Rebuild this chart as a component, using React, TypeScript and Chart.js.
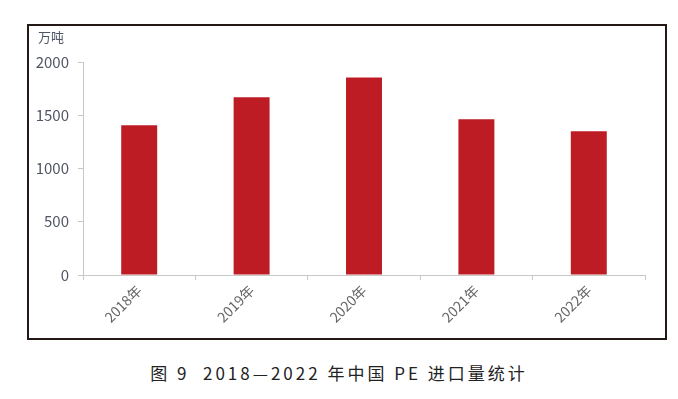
import React, { useEffect, useRef } from "react";
import { Chart, registerables } from "chart.js";

Chart.register(...registerables);

const categories = ["2018年", "2019年", "2020年", "2021年", "2022年"];
const importVolume = [1406, 1670, 1855, 1462, 1349];
const yTicks = [0, 500, 1000, 1500, 2000];
const unitLabel = "万吨";
const caption = "图 9  2018—2022 年中国 PE 进口量统计";

const FONT = "'Noto Sans CJK SC', 'Noto Sans', sans-serif";

export default function App() {
  const ref = useRef<HTMLCanvasElement | null>(null);

  useEffect(() => {
    if (!ref.current) return;
    const chart = new Chart(ref.current, {
      type: "bar",
      data: {
        labels: categories,
        datasets: [
          {
            data: importVolume,
            backgroundColor: "#be1c24",
            borderWidth: 0,
            barPercentage: 0.64,
            categoryPercentage: 0.5,
          },
        ],
      },
      options: {
        responsive: false,
        animation: false,
        layout: { padding: { top: 38, right: 22, left: 0, bottom: 0 } },
        plugins: {
          legend: { display: false },
          tooltip: { enabled: false },
        },
        scales: {
          x: {
            grid: {
              display: true,
              drawOnChartArea: false,
              tickLength: 5,
              color: "#c8c8c8",
            },
            border: { display: true, color: "#c8c8c8", width: 1 },
            ticks: {
              maxRotation: 45,
              minRotation: 45,
              color: "#666666",
              font: { family: FONT, size: 14 },
              padding: 2,
            },
            afterFit: (s: any) => {
              s.height = 65;
            },
          },
          y: {
            min: 0,
            max: 2000,
            afterBuildTicks: (s: any) => {
              s.ticks = yTicks.map((v) => ({ value: v }));
            },
            grid: {
              display: true,
              drawOnChartArea: false,
              tickLength: 5,
              color: "#c8c8c8",
            },
            border: { display: true, color: "#c8c8c8", width: 1 },
            ticks: {
              color: "#4f5563",
              font: { family: FONT, size: 15 },
              padding: 9,
              callback: (v: any) => String(v),
            },
            afterFit: (s: any) => {
              s.width = 56;
            },
          },
        },
      },
    });
    return () => chart.destroy();
  }, []);

  return (
    <div
      style={{
        position: "absolute",
        left: 0,
        top: 0,
        width: 678,
        height: 399,
        background: "#ffffff",
        fontFamily: FONT,
      }}
    >
      <canvas
        ref={ref}
        width={640}
        height={316}
        style={{ position: "absolute", left: 27, top: 24, width: 640, height: 316 }}
      />
      <div
        style={{
          position: "absolute",
          left: 27,
          top: 24,
          width: 636,
          height: 312,
          border: "2px solid #231815",
          pointerEvents: "none",
        }}
      />
      <div
        style={{
          position: "absolute",
          left: 38,
          top: 28,
          fontSize: 13,
          color: "#4f5563",
          lineHeight: "18px",
        }}
      >
        {unitLabel}
      </div>
      <div
        style={{
          position: "absolute",
          left: 0,
          top: 362,
          width: 678,
          textAlign: "center",
          fontSize: 17,
          letterSpacing: 3,
          color: "#222",
          lineHeight: "22px",
          whiteSpace: "pre",
        }}
      >
        {caption}
      </div>
    </div>
  );
}
